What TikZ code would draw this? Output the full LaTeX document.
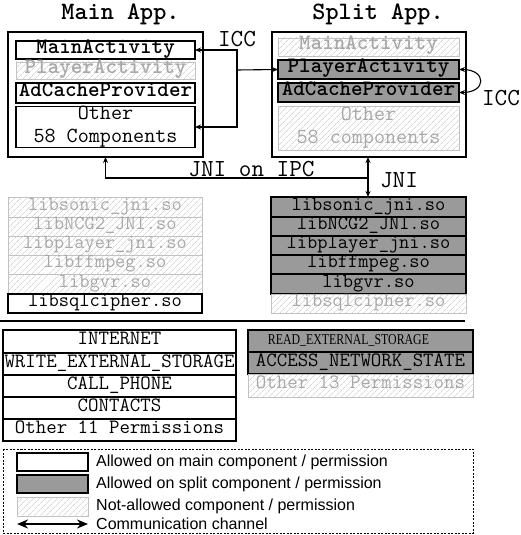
\documentclass[tikz,border=0pt]{standalone}
\usepackage{fontspec}
\newfontfamily\sansf{Liberation Sans}
\newfontfamily\seriff{Liberation Serif}
\usetikzlibrary{patterns.meta,arrows.meta}
\definecolor{darkfill}{HTML}{9A9A9A}
\definecolor{hatchline}{HTML}{C2C2C2}
\definecolor{hatchtext}{HTML}{A8A8A8}
\definecolor{hatchborder}{HTML}{C2C2C2}
\newcommand\mybox[7]{\node[#1, minimum width={#5-#3}, minimum height={#6-#4}] (#2) at ({(#3+#5)/2},{(#4+#6)/2}) {#7};}
\begin{document}
\begin{tikzpicture}[x=1pt,y=-1pt,
  base/.style={rectangle, inner sep=0pt, outer sep=0pt, anchor=center, text height=0.6em, text depth=0pt},
  appbox/.style={rectangle, inner sep=0pt, outer sep=0pt, draw=black, line width=1.4pt, fill=white},
  whitebox/.style={base, draw=black, line width=1.2pt, fill=white},
  darkbox/.style={base, draw=black, line width=2pt, fill=darkfill},
  hatchbox/.style={base, draw=hatchborder, line width=0.8pt,
    pattern={Lines[angle=45,distance=4pt,line width=0.6pt]}, pattern color=hatchline, text=hatchtext},
  compfont/.style={font=\ttfamily\bfseries\fontsize{22}{24}\selectfont},
  otherfont/.style={font=\ttfamily\fontsize{21.5}{23}\selectfont, align=center, text height=, text depth=},
  libfont/.style={font=\ttfamily\fontsize{19.9}{22}\selectfont},
  permfont/.style={font=\ttfamily\fontsize{20.3}{22}\selectfont},
  titlefont/.style={font=\ttfamily\bfseries\fontsize{25}{27}\selectfont},
  labelfont/.style={font=\ttfamily\fontsize{24.5}{27}\selectfont},
  legfont/.style={font=\sansf\fontsize{16}{18}\selectfont, anchor=west, inner sep=0pt},
  conn/.style={line width=1.1pt, draw=black},
  tip/.style={-{Stealth[length=6pt,width=5pt]}},
  dtip/.style={{Stealth[length=6pt,width=5pt]}-{Stealth[length=6pt,width=5pt]}},
]
\useasboundingbox (0,0) rectangle (521,535);

% titles
\node[titlefont, anchor=base] (tmain) at (120.5,20) {Main App.};
\node[titlefont, anchor=base] (tsplit) at (378,20) {Split App.};

% app boxes
\node[appbox, minimum width=195, minimum height=125] (mbox) at (105.5,94.5) {};
\node[appbox, minimum width=194, minimum height=125] (sbox) at (369,94.5) {};

% main components
\mybox{whitebox,compfont}{mMA}{16}{41}{195}{59}{MainActivity}
\mybox{hatchbox,compfont}{mPA}{16}{62}{195}{79}{PlayerActivity}
\mybox{whitebox,compfont}{mAC}{16}{83}{195}{103}{AdCacheProvider}
\mybox{whitebox,otherfont}{mOT}{16}{107}{195}{147}{Other\\58 Components}

% split components
\mybox{hatchbox,compfont}{sMA}{278}{38}{459}{56}{MainActivity}
\mybox{darkbox,compfont}{sPA}{278}{60}{459}{79}{PlayerActivity}
\mybox{darkbox,compfont}{sAC}{278}{83}{459}{102}{AdCacheProvider}
\mybox{hatchbox,otherfont}{sOT}{278}{106}{459}{150}{Other\\58 components}

% ICC connectors
\coordinate (iccx) at (237,70);
\draw[conn, dtip] (mMA.east) -| (iccx) |- (mOT.east);
\draw[conn, tip] (iccx) -- (sPA.west);
\node[labelfont] (icc1) at (237,39) {ICC};
\draw[conn, dtip] (sPA.east) to[out=0, in=0, looseness=3.1] (sAC.east);
\node[labelfont] (icc2) at (501,98) {ICC};

% left libs
\mybox{hatchbox,libfont}{lL1}{8}{197}{202}{217}{libsonic\_jni.so}
\mybox{hatchbox,libfont}{lL2}{8}{217}{202}{236}{libNCG2\_JNI.so}
\mybox{hatchbox,libfont}{lL3}{8}{236}{202}{255}{libplayer\_jni.so}
\mybox{hatchbox,libfont}{lL4}{8}{255}{202}{274}{libffmpeg.so}
\mybox{hatchbox,libfont}{lL5}{8}{274}{202}{294}{libgvr.so}
\mybox{whitebox,libfont}{lL6}{8}{294}{202}{313}{libsqlcipher.so}

% right libs
\mybox{darkbox,libfont}{rL1}{271}{197}{466}{217}{libsonic\_jni.so}
\mybox{darkbox,libfont}{rL2}{271}{217}{466}{236}{libNCG2\_JNI.so}
\mybox{darkbox,libfont}{rL3}{271}{236}{466}{255}{libplayer\_jni.so}
\mybox{darkbox,libfont}{rL4}{271}{255}{466}{274}{libffmpeg.so}
\mybox{darkbox,libfont}{rL5}{271}{274}{466}{294}{libgvr.so}
\mybox{hatchbox,libfont}{rL6}{271}{294}{466}{313}{libsqlcipher.so}

% JNI connectors
\coordinate (jmid) at (368,178);
\draw[line width=1.6pt, dtip] (sbox.south -| jmid) -- (rL1.north -| jmid);
\draw[conn, tip] (jmid) -| (mbox.south);
\node[labelfont] (jniipc) at (251.5,169) {JNI on IPC};
\node[labelfont] (jni) at (399,180) {JNI};

% separator
\coordinate (sepL) at (0,321);
\coordinate (sepR) at (465,321);
\draw[line width=2.6pt] (sepL) -- (sepR);

% left permissions
\mybox{whitebox,permfont}{pL1}{3}{330}{236}{353}{INTERNET}
\mybox{whitebox,permfont}{pL2}{3}{353}{236}{375}{WRITE\_EXTERNAL\_STORAGE}
\mybox{whitebox,permfont}{pL3}{3}{375}{236}{397}{CALL\_PHONE}
\mybox{whitebox,permfont}{pL4}{3}{397}{236}{419}{CONTACTS}
\mybox{whitebox,permfont}{pL5}{3}{419}{236}{441}{Other 11 Permissions}

% right permissions
\mybox{darkbox,permfont}{pR1}{248}{330}{473}{352}{\hspace*{-24pt}{\seriff\fontsize{15}{17}\selectfont\scalebox{0.79}[1]{READ\_EXTERNAL\_STORAGE}}}
\mybox{darkbox,permfont}{pR2}{248}{352}{473}{374}{ACCESS\_NETWORK\_STATE}
\mybox{hatchbox,permfont}{pR3}{248}{374}{473}{397}{Other 13 Permissions}

% legend
\draw[line width=0.8pt, dashed, dash pattern=on 2pt off 1.5pt] (3,449) rectangle (473,533);
\mybox{whitebox}{lgW}{17}{453}{88}{471}{}
\mybox{darkbox}{lgD}{17}{475}{88}{493}{}
\mybox{hatchbox}{lgH}{17}{497}{88}{516}{}
\coordinate (la1) at (17,524);
\coordinate (la2) at (88,524);
\draw[line width=2pt, {Stealth[length=11pt,width=9pt]}-{Stealth[length=11pt,width=9pt]}] (la1) -- (la2);
\node[legfont] (lt1) at (96,462) {Allowed on main component / permission};
\node[legfont] (lt2) at (96,484) {Allowed on split component / permission};
\node[legfont] (lt3) at (96,506) {Not-allowed component / permission};
\node[legfont] (lt4) at (96,524) {Communication channel};
\end{tikzpicture}
\end{document}
